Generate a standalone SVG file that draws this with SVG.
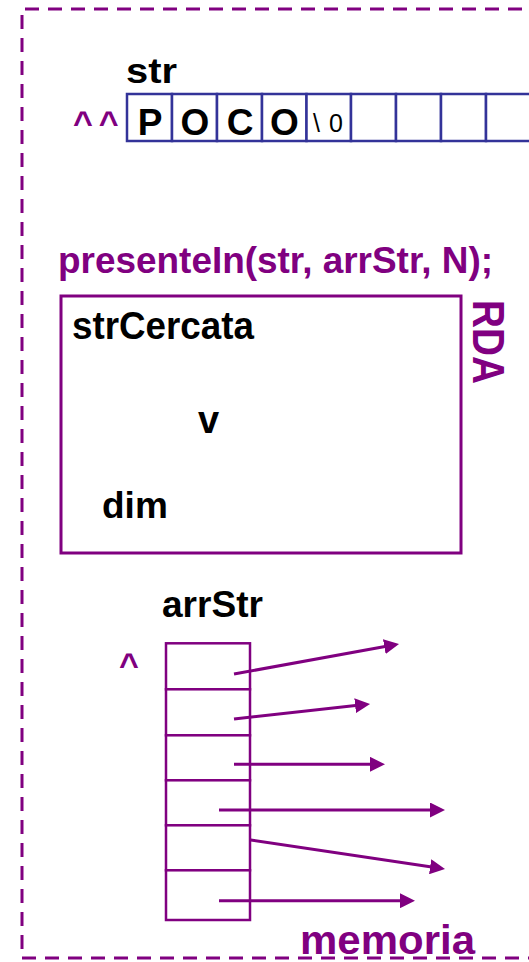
<svg xmlns="http://www.w3.org/2000/svg" width="529" height="962" viewBox="0 0 529 962">
<style>
.t{font-family:"Liberation Sans",Arial,sans-serif;font-weight:bold;fill:#000}
.p{font-family:"Liberation Sans",Arial,sans-serif;font-weight:bold;fill:#800080}
.cell{fill:#fff;stroke:#333399;stroke-width:2.5}
.acell{fill:#fff;stroke:#800080;stroke-width:2.5}
.arr{stroke:#800080;stroke-width:3;fill:none;marker-end:url(#ah)}
</style>
<defs>
<marker id="ah" markerUnits="userSpaceOnUse" markerWidth="15" markerHeight="15" viewBox="0 0 15 15" refX="5" refY="7.5" orient="auto">
<path d="M0,0 L15,7.5 L0,15 z" fill="#800080"/>
</marker>
</defs>
<rect width="529" height="962" fill="#fff"/>
<g id="memoria-frame">
<path d="M545,9 H22 V958 H545" fill="none" stroke="#800080" stroke-width="3" stroke-dasharray="14 9"/>
</g>
<g id="str">
<text class="t" x="126" y="83" font-size="35" textLength="51" lengthAdjust="spacingAndGlyphs">str</text>
<text class="p" x="73" y="134" font-size="34" letter-spacing="6">^^</text>
<rect class="cell" x="127" y="94" width="45" height="47"/>
<rect class="cell" x="172" y="94" width="45" height="47"/>
<rect class="cell" x="217" y="94" width="45" height="47"/>
<rect class="cell" x="262" y="94" width="44.5" height="47"/>
<rect class="cell" x="306.5" y="94" width="44.5" height="47"/>
<rect class="cell" x="351" y="94" width="45" height="47"/>
<rect class="cell" x="396" y="94" width="45" height="47"/>
<rect class="cell" x="441" y="94" width="45" height="47"/>
<rect class="cell" x="486" y="94" width="45" height="47"/>
<g class="t" font-size="37" text-anchor="middle">
<text x="150" y="135">P</text>
<text x="195" y="135">O</text>
<text x="240" y="135">C</text>
<text x="284.5" y="135">O</text>
</g>
<text x="313" y="132" font-family="Liberation Sans,Arial,sans-serif" font-size="25" fill="#000">\<tspan dx="9">0</tspan></text>
</g>
<g id="call">
<text class="p" x="58" y="273" font-size="37" textLength="435" lengthAdjust="spacingAndGlyphs">presenteIn(str, arrStr, N);</text>
</g>
<g id="rda">
<rect x="61" y="296" width="400" height="257" fill="none" stroke="#800080" stroke-width="3"/>
<text class="t" x="72" y="339" font-size="38" textLength="182" lengthAdjust="spacingAndGlyphs">strCercata</text>
<text class="t" x="198" y="433" font-size="38">v</text>
<text class="t" x="102" y="518" font-size="37">dim</text>
<text class="p" transform="translate(473,300) rotate(90)" font-size="45" textLength="84" lengthAdjust="spacingAndGlyphs">RDA</text>
</g>
<g id="arrStr">
<text class="t" x="162" y="617" font-size="37" textLength="101" lengthAdjust="spacingAndGlyphs">arrStr</text>
<text class="p" x="119" y="676" font-size="34">^</text>
<rect class="acell" x="166" y="643.3" width="84" height="46"/>
<rect class="acell" x="166" y="689.3" width="84" height="46"/>
<rect class="acell" x="166" y="735.3" width="84" height="45"/>
<rect class="acell" x="166" y="780.3" width="84" height="45"/>
<rect class="acell" x="166" y="825.3" width="84" height="45"/>
<rect class="acell" x="166" y="870.3" width="84" height="49.7"/>
</g>
<g id="connectors">
<line class="arr" x1="234" y1="674" x2="389.2" y2="645.8"/>
<line class="arr" x1="234" y1="719" x2="360.1" y2="705.1"/>
<line class="arr" x1="234" y1="764.3" x2="375" y2="764.3"/>
<line class="arr" x1="219" y1="810" x2="435" y2="810"/>
<line class="arr" x1="250.7" y1="840" x2="435.1" y2="867.5"/>
<line class="arr" x1="219" y1="900.7" x2="405" y2="900.7"/>
</g>
<g id="label-memoria">
<text class="p" x="300" y="954" font-size="41" textLength="175" lengthAdjust="spacingAndGlyphs">memoria</text>
</g>
</svg>
